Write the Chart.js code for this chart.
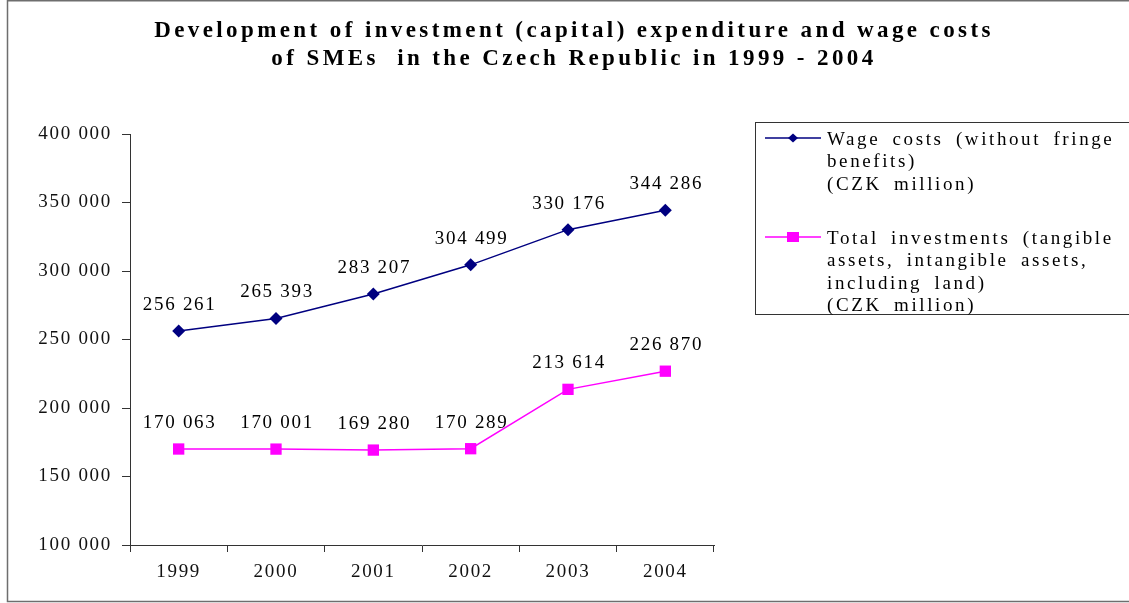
<!DOCTYPE html>
<html>
<head>
<meta charset="utf-8">
<script src="https://cdn.jsdelivr.net/npm/chart.js@4/dist/chart.umd.min.js"></script>
<style>
  html, body { margin: 0; padding: 0; background: #fff; }
  #wrap { position: relative; width: 1129px; height: 603px; }
</style>
</head>
<body>
<div id="wrap"><canvas id="chart" width="1129" height="603"></canvas></div>
<script>
// Years on the category axis
const years = ['1999', '2000', '2001', '2002', '2003', '2004'];

// Wage costs (without fringe benefits), CZK million
const wageCosts = [256261, 265393, 283207, 304499, 330176, 344286];

// Total investments (tangible + intangible assets, including land), CZK million
const totalInvestments = [170063, 170001, 169280, 170289, 213614, 226870];

// Legend text, one entry per line
const wageLegend = ['Wage costs (without fringe', 'benefits)', '(CZK million)'];
const investLegend = ['Total investments (tangible', 'assets, intangible assets,', 'including land)', '(CZK million)'];

// Chart title lines
const titleLines = [
  'Development of investment (capital) expenditure and wage costs',
  'of SMEs  in the Czech Republic in 1999 - 2004'
];

// Y axis range and step
const yMin = 100000, yMax = 400000, yStep = 50000;

const SERIF = "'Liberation Serif', 'Times New Roman', serif";
const TEXT_SPACING = '1.7px';

function spaced(n) {
  return String(n).replace(/\B(?=(\d{3})+(?!\d))/g, ' ');
}

// Outer frame and letter spacing for axis text
const framePlugin = {
  id: 'frame',
  beforeDraw(chart) {
    const ctx = chart.ctx;
    ctx.save();
    ctx.fillStyle = '#fff';
    ctx.fillRect(0, 0, chart.width, chart.height);
    ctx.strokeStyle = '#6e6e6e';
    ctx.lineWidth = 1.5;
    ctx.beginPath();
    ctx.moveTo(chart.width + 5, 0.75);
    ctx.lineTo(7.5, 0.75);
    ctx.lineTo(7.5, 601.5);
    ctx.lineTo(chart.width + 5, 601.5);
    ctx.stroke();
    ctx.restore();
    ctx.letterSpacing = TEXT_SPACING;
  },
  afterDraw(chart) {
    chart.ctx.letterSpacing = '0px';
  }
};

// Two-line centred title
const titlePlugin = {
  id: 'titleLines',
  afterDraw(chart) {
    const ctx = chart.ctx;
    ctx.save();
    ctx.font = 'bold 23px ' + SERIF;
    ctx.letterSpacing = '3.4px';
    ctx.fillStyle = '#000';
    ctx.textAlign = 'center';
    ctx.textBaseline = 'middle';
    ctx.fillText(titleLines[0], 574, 31);
    ctx.fillText(titleLines[1], 574, 59);
    ctx.restore();
  }
};

// Value labels above each point
const valueLabelPlugin = {
  id: 'valueLabels',
  afterDatasetsDraw(chart) {
    const ctx = chart.ctx;
    ctx.save();
    ctx.font = '19px ' + SERIF;
    ctx.letterSpacing = TEXT_SPACING;
    ctx.fillStyle = '#000';
    ctx.textAlign = 'center';
    ctx.textBaseline = 'middle';
    chart.data.datasets.forEach((ds, i) => {
      const meta = chart.getDatasetMeta(i);
      meta.data.forEach((pt, j) => {
        ctx.fillText(spaced(ds.data[j]), pt.x + 1, pt.y - 26);
      });
    });
    ctx.restore();
  }
};

// Boxed legend with multi-line labels
const boxLegendPlugin = {
  id: 'boxLegend',
  afterDraw(chart) {
    const ctx = chart.ctx;
    ctx.save();
    ctx.strokeStyle = '#333';
    ctx.lineWidth = 1;
    ctx.strokeRect(755.5, 122.5, 400, 192);

    const items = [
      { lines: wageLegend, y: 138, ds: chart.data.datasets[0] },
      { lines: investLegend, y: 237, ds: chart.data.datasets[1] }
    ];
    ctx.font = '19px ' + SERIF;
    ctx.letterSpacing = '2.6px';
    ctx.wordSpacing = '5px';
    ctx.textAlign = 'left';
    ctx.textBaseline = 'middle';
    items.forEach(it => {
      ctx.strokeStyle = it.ds.borderColor;
      ctx.lineWidth = 1.5;
      ctx.beginPath();
      ctx.moveTo(765, it.y);
      ctx.lineTo(821, it.y);
      ctx.stroke();
      ctx.fillStyle = it.ds.pointBackgroundColor;
      ctx.beginPath();
      if (it.ds.pointStyle === 'rectRot') {
        ctx.moveTo(793, it.y - 4.5);
        ctx.lineTo(798, it.y);
        ctx.lineTo(793, it.y + 4.5);
        ctx.lineTo(788, it.y);
        ctx.closePath();
      } else {
        ctx.rect(787, it.y - 5, 12, 10);
      }
      ctx.fill();
      ctx.fillStyle = '#000';
      it.lines.forEach((t, k) => ctx.fillText(t, 827, it.y + 2 + k * 22.5));
    });
    ctx.wordSpacing = '0px';
    ctx.restore();
  }
};

new Chart(document.getElementById('chart'), {
  type: 'line',
  data: {
    labels: years,
    datasets: [
      {
        label: wageLegend.join(' '),
        data: wageCosts,
        borderColor: '#000080',
        backgroundColor: '#000080',
        pointBackgroundColor: '#000080',
        pointBorderColor: '#000080',
        borderWidth: 1.5,
        pointStyle: 'rectRot',
        pointRadius: 6.5,
        pointBorderWidth: 0,
        tension: 0
      },
      {
        label: investLegend.join(' '),
        data: totalInvestments,
        borderColor: '#ff00ff',
        backgroundColor: '#ff00ff',
        pointBackgroundColor: '#ff00ff',
        pointBorderColor: '#ff00ff',
        borderWidth: 1.5,
        pointStyle: 'rect',
        pointRadius: 8,
        pointBorderWidth: 0,
        tension: 0
      }
    ]
  },
  options: {
    responsive: false,
    animation: false,
    devicePixelRatio: 1,
    layout: { padding: { left: 8, top: 134, right: 415, bottom: 0 } },
    plugins: {
      legend: { display: false },
      title: { display: false },
      tooltip: { enabled: false }
    },
    scales: {
      x: {
        offset: true,
        grid: {
          offset: true,
          drawOnChartArea: false,
          drawTicks: true,
          tickLength: 7,
          color: '#333',
          lineWidth: 1
        },
        border: { display: true, color: '#333', width: 1 },
        ticks: {
          color: '#111',
          font: { family: SERIF, size: 19 },
          padding: 9,
          maxRotation: 0
        },
        afterFit(scale) { scale.height = 58; }
      },
      y: {
        min: yMin,
        max: yMax,
        grid: {
          drawOnChartArea: false,
          drawTicks: true,
          tickLength: 8,
          color: '#333',
          lineWidth: 1
        },
        border: { display: true, color: '#333', width: 1 },
        ticks: {
          stepSize: yStep,
          color: '#111',
          font: { family: SERIF, size: 19 },
          padding: 10,
          callback: v => spaced(v)
        },
        afterFit(scale) { scale.width = 122; }
      }
    }
  },
  plugins: [framePlugin, titlePlugin, valueLabelPlugin, boxLegendPlugin]
});
</script>
</body>
</html>
